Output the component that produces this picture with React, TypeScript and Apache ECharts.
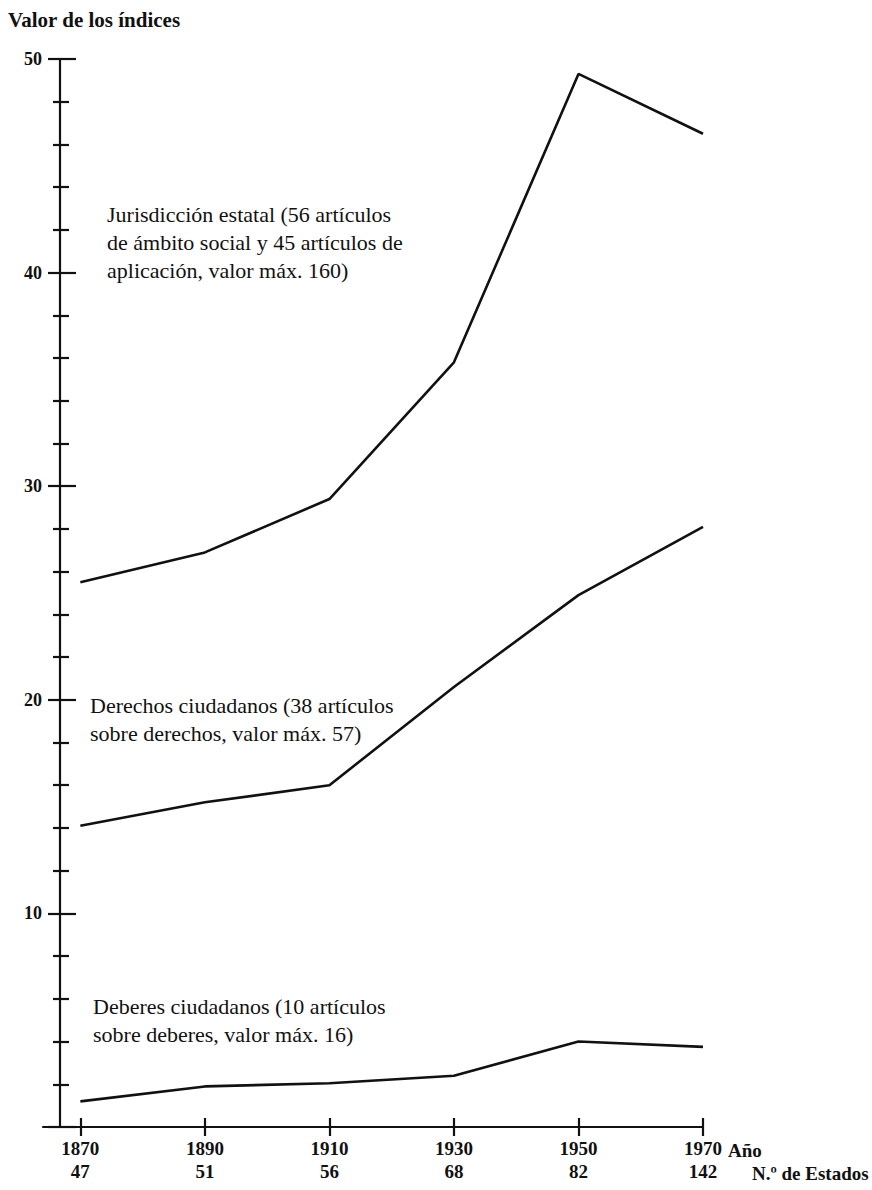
import { useEffect, useRef } from 'react';
import * as echarts from 'echarts';

const years = [1870, 1890, 1910, 1930, 1950, 1970];
const numStates = [47, 51, 56, 68, 82, 142];
const jurisdiccion = [25.5, 26.9, 29.4, 35.8, 49.3, 46.5];
const derechos = [14.1, 15.2, 16.0, 20.6, 24.9, 28.1];
const deberes = [1.2, 1.9, 2.05, 2.4, 4.0, 3.75];

const yTitle = 'Valor de los índices';
const xName1 = 'Año';
const xName2 = 'N.º de Estados';
const labelJur = 'Jurisdicción estatal (56 artículos\nde ámbito social y 45 artículos de\naplicación, valor máx. 160)';
const labelDer = 'Derechos ciudadanos (38 artículos\nsobre derechos, valor máx. 57)';
const labelDeb = 'Deberes ciudadanos (10 artículos\nsobre deberes, valor máx. 16)';

const FONT = '"Liberation Serif", "DejaVu Serif", serif';
const INK = '#111';

export default function App() {
  const ref = useRef<HTMLDivElement>(null);
  useEffect(() => {
    if (!ref.current) return;
    const chart = echarts.init(ref.current, undefined, { renderer: 'svg' });
    const pairs = (vals: number[]) => years.map((y, i) => [y, vals[i]]);
    const lineSeries = (name: string, vals: number[]) => ({
      name,
      type: 'line',
      data: pairs(vals),
      symbol: 'none',
      xAxisIndex: 0,
      yAxisIndex: 0,
      lineStyle: { color: INK, width: 2.6 },
      itemStyle: { color: INK },
      silent: true,
    });
    const textStyle = (size: number, weight: string = 'normal', lh: number = 28) => ({
      fontFamily: FONT,
      fontSize: size,
      fontWeight: weight,
      fill: INK,
      lineHeight: lh,
    });
    chart.setOption({
      animation: false,
      backgroundColor: '#fff',
      grid: { left: 43, right: 169, top: 59, bottom: 63, containLabel: false },
      xAxis: [
        {
          type: 'value',
          min: 1864,
          max: 1970,
          position: 'bottom',
          axisLine: { show: true, lineStyle: { color: INK, width: 2.2 } },
          axisTick: { show: true, customValues: years, length: 9, lineStyle: { color: INK, width: 2.2 } },
          axisLabel: {
            show: true,
            customValues: years,
            margin: 10,
            formatter: (v: number) => {
              const i = years.indexOf(v);
              return `{a|${v}}\n{b|${i >= 0 ? numStates[i] : ''}}`;
            },
            rich: {
              a: { fontFamily: FONT, fontSize: 19, fontWeight: 'bold', color: INK, lineHeight: 23 },
              b: { fontFamily: FONT, fontSize: 19, fontWeight: 'bold', color: INK, lineHeight: 23 },
            },
          },
          splitLine: { show: false },
        },
        {
          type: 'value',
          min: 1864,
          max: 1970,
          position: 'bottom',
          axisLine: { show: false },
          axisTick: { show: true, inside: true, customValues: years, length: 9, lineStyle: { color: INK, width: 2.2 } },
          axisLabel: { show: false },
          splitLine: { show: false },
        },
      ],
      yAxis: [
        {
          type: 'value',
          min: 0,
          max: 50,
          interval: 10,
          position: 'left',
          offset: -17,
          axisLine: { show: true, lineStyle: { color: INK, width: 2.2 } },
          axisTick: { show: true, length: 12, lineStyle: { color: INK, width: 2.2 } },
          minorTick: { show: true, splitNumber: 5, length: 7, lineStyle: { color: INK, width: 2.2 } },
          axisLabel: {
            margin: 18,
            formatter: (v: number) => (v === 0 ? '' : String(v)),
            fontFamily: FONT,
            fontSize: 18,
            fontWeight: 'bold',
            color: INK,
          },
          splitLine: { show: false },
          minorSplitLine: { show: false },
        },
        {
          type: 'value',
          min: 0,
          max: 50,
          interval: 10,
          position: 'left',
          offset: -17,
          axisLine: { show: false },
          axisTick: { show: true, inside: true, length: 16, lineStyle: { color: INK, width: 2.2 } },
          minorTick: { show: true, splitNumber: 5, length: 9, lineStyle: { color: INK, width: 2.2 } },
          axisLabel: { show: false },
          splitLine: { show: false },
          minorSplitLine: { show: false },
        },
      ],
      series: [
        lineSeries('Jurisdicción estatal', jurisdiccion),
        lineSeries('Derechos ciudadanos', derechos),
        lineSeries('Deberes ciudadanos', deberes),
      ],
      graphic: [
        { type: 'text', left: 8, top: 8, style: { text: yTitle, ...textStyle(21, 'bold', 24) } },
        { type: 'text', left: 107, top: 200, style: { text: labelJur, ...textStyle(22) } },
        { type: 'text', left: 90, top: 691, style: { text: labelDer, ...textStyle(22) } },
        { type: 'text', left: 93, top: 992, style: { text: labelDeb, ...textStyle(22) } },
        { type: 'text', left: 728, top: 1139, style: { text: xName1, ...textStyle(19, 'bold', 23) } },
        { type: 'text', left: 752, top: 1162, style: { text: xName2, ...textStyle(19, 'bold', 23) } },
      ],
    });
    return () => chart.dispose();
  }, []);
  return (
    <div
      ref={ref}
      style={{ position: 'absolute', left: 0, top: 0, width: 872, height: 1190, background: '#fff' }}
    />
  );
}
